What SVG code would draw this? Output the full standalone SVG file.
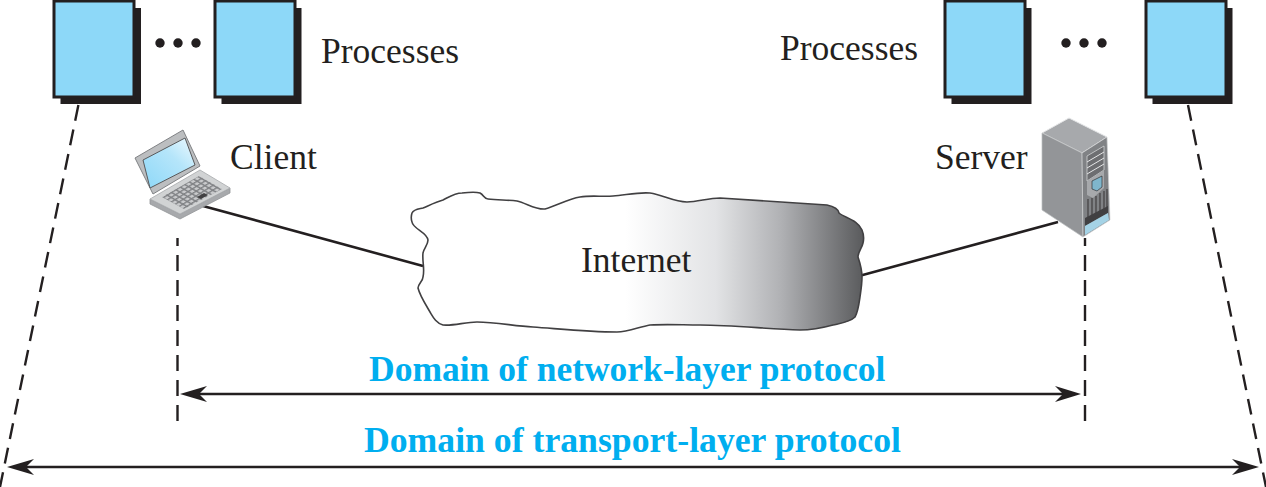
<svg xmlns="http://www.w3.org/2000/svg" width="1266" height="487" viewBox="0 0 1266 487">
<style>
.t{font-family:"Liberation Serif",serif;font-size:35.5px;fill:#231f20}
.b{font-family:"Liberation Serif",serif;font-size:35.5px;font-weight:bold;fill:#00aeef}
.sh{fill:#231f20}
.pg{fill:#8dd8f8;stroke:#231f20;stroke-width:3}
.c{fill:none;stroke:#231f20;stroke-width:2.6}
.d{fill:none;stroke:#231f20;stroke-width:2.4;stroke-dasharray:16 9}
.dot{fill:#231f20}
.vent{fill:none;stroke:#e6e7e8;stroke-width:1}
.rib{fill:none;stroke:#414042;stroke-width:1.2}
</style>
<defs>
<linearGradient id="g" gradientUnits="userSpaceOnUse" x1="625" y1="0" x2="865" y2="0">
<stop offset="0" stop-color="#fff"/><stop offset=".38" stop-color="#e2e3e5"/><stop offset=".65" stop-color="#b0b1b4"/><stop offset="1" stop-color="#58595b"/>
</linearGradient>
<linearGradient id="scr" x1="0" y1="1" x2="1" y2="0"><stop offset="0" stop-color="#8dd8f8"/><stop offset=".6" stop-color="#b5e5fa"/><stop offset="1" stop-color="#f0faff"/></linearGradient>
<pattern id="k" width="4.500" height="4.500" patternUnits="userSpaceOnUse" patternTransform="rotate(30) skewX(-28)"><rect width="4.500" height="4.500" fill="#808285"/><rect x=".6" y=".6" width="3" height="3" fill="#c9cacc"/></pattern>
</defs>

<g id="connectors">
<path class="c" d="M203 206 L423 266"/>
<path class="c" d="M859 276 L1058 222"/>
<path class="d" d="M78.400 105 L0 487"/>
<path class="d" d="M1188 105 L1266 487"/>
<path class="d" d="M177.500 421 V238"/>
<path class="d" d="M1085 421 V238"/>
<path class="c" d="M190 394 H1072"/>
<path class="c" d="M17 467 H1250"/>
<path class="dot" d="M180 394 L207 386 L199 394 L207 402 Z"/>
<path class="dot" d="M1081 394 L1055 386 L1063 394 L1055 402 Z"/>
<path class="dot" d="M7 467 L34 459 L26 467 L34 475 Z"/>
<path class="dot" d="M1259 467 L1232 459 L1240 467 L1232 475 Z"/>
</g>

<g id="client-process-1"><rect class="sh" x="60.500" y="8" width="80.500" height="96"/><rect class="pg" x="54" y="1" width="80" height="96"/></g>
<g id="client-dots"><circle class="dot" cx="160" cy="43" r="4.700"/><circle class="dot" cx="178" cy="43" r="4.700"/><circle class="dot" cx="196" cy="43" r="4.700"/></g>
<g id="client-process-2"><rect class="sh" x="221.500" y="8" width="80" height="96"/><rect class="pg" x="215" y="1" width="80" height="96"/></g>
<g id="client-processes-label"><text class="t" x="321" y="63">Processes</text></g>

<g id="server-processes-label"><text class="t" x="780" y="60">Processes</text></g>
<g id="server-process-1"><rect class="sh" x="951.500" y="8" width="80" height="96"/><rect class="pg" x="945" y="1" width="80" height="96"/></g>
<g id="server-dots"><circle class="dot" cx="1066" cy="43" r="4.700"/><circle class="dot" cx="1084" cy="43" r="4.700"/><circle class="dot" cx="1102" cy="43" r="4.700"/></g>
<g id="server-process-2"><rect class="sh" x="1152.500" y="8" width="80" height="96"/><rect class="pg" x="1146" y="1" width="80" height="96"/></g>

<g id="client">
<path d="M150 199 L150 204 L180 219 L230 193 L230 188 L180 214 Z" fill="#a7a9ac" stroke="#939598" stroke-width=".8"/>
<path d="M150 199 L200 170 L230 188 L180 214 Z" fill="#d1d3d4" stroke="#a7a9ac" stroke-width=".8"/>
<path d="M162 197 L199 176 L222 189 L184 209 Z" fill="url(#k)"/>
<path d="M197 197 L204 193 L208 195 L201 199 Z" fill="#414042"/>
<path d="M135 158 L183 130 L200 166 L153 194 Z" fill="#bcbec0" stroke="#808285" stroke-width="1"/>
<path d="M143 160 L185 138 L195 165 L150 188 Z" fill="url(#scr)" stroke="#58595b" stroke-width="1"/>
<text class="t" x="230" y="169">Client</text>
</g>

<g id="server">
<text class="t" x="935" y="169">Server</text>
<path d="M1042 133 L1069 118 L1107 137 L1082 153 Z" fill="#a7a9ac" stroke="#e6e7e8" stroke-width="1"/>
<path d="M1042 133 L1082 153 L1083 237 L1042 210 Z" fill="#939598" stroke="#bcbec0" stroke-width=".7"/>
<path d="M1082 153 L1107 137 L1110 220 L1083 237 Z" fill="#808285" stroke="#d1d3d4" stroke-width=".7"/>
<path d="M1087 156 L1104 146 L1104 170 L1087 181 Z" fill="#6d6e71" stroke="#d1d3d4" stroke-width=".8"/>
<path class="vent" d="M1087 162 L1104 152 M1087 168 L1104 158 M1087 174 L1104 164"/>
<path d="M1087 181 L1104 170 L1104 188 L1093 198 L1087 195 Z" fill="#a7a9ac"/>
<path d="M1092 181 L1102 176 L1102 187 L1097 191 L1092 189 Z" fill="#7fb6cc" stroke="#231f20" stroke-width=".6"/>
<path class="rib" d="M1088 199 V217 M1092 198 V216 M1096 196 V214 M1100 193 V212 M1104 191 V210 M1107 189 V208"/>
<path d="M1085 218 L1108 206 L1108 213 L1085 226 Z" fill="#414042"/>
<path d="M1085 226 L1108 213 L1109 220 L1085 235 Z" fill="#a5d3e6"/>
</g>

<g id="internet">
<path d="M412 213 C414 209 419 209 423 208 C430 205 436 202 443 200 C449 197 455 193 462 193 C470 192 477 192 480 193 C484 195 484 199 488 199 C498 200 508 200 517 201 C526 203 536 210 545 209 C556 206 568 199 580 197 C592 195 602 197 613 196 C626 195 638 192 650 193 C663 195 674 202 687 202 C698 202 708 198 720 198 C755 200 792 203 827 205 C832 206 838 208 839 213 C845 218 858 220 862 230 C864 235 864 239 863 243 C862 248 858 252 858 257 C860 263 862 270 862 277 C862 284 861 290 860 297 C859 304 858 312 855 317 C850 322 842 323 833 325 C822 328 811 330 800 330 C767 329 733 325 700 325 C683 325 667 324 650 325 C639 327 628 332 617 332 C589 332 561 329 533 327 C514 326 496 322 477 322 C465 322 454 326 443 325 C436 323 433 317 430 312 C426 305 420 296 418 288 C418 284 423 281 423 277 C425 269 422 261 423 253 C424 248 428 245 428 240 C427 232 413 229 412 222 C411 219 411 216 412 213 Z" fill="url(#g)" stroke="#414042" stroke-width="1.600"/>
<text class="t" x="581" y="272">Internet</text>
</g>

<g id="network-domain"><text class="b" x="369" y="381">Domain of network-layer protocol</text></g>
<g id="transport-domain"><text class="b" x="364" y="452" style="font-size:35.7px">Domain of transport-layer protocol</text></g>
</svg>
